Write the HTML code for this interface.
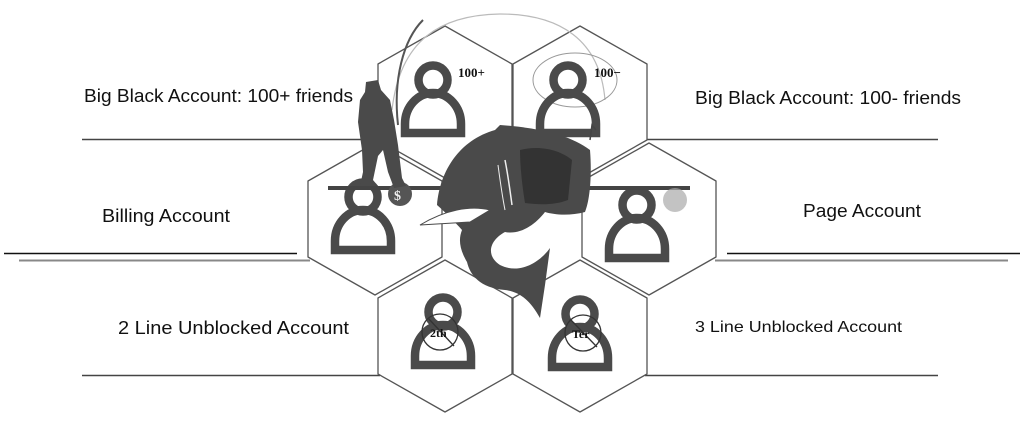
<!DOCTYPE html>
<html><head><meta charset="utf-8"><style>
html,body{margin:0;padding:0;background:#fff;}
svg{display:block;}
text{font-family:"Liberation Sans",sans-serif;fill:#111;}
</style></head><body>
<svg width="1024" height="422" viewBox="0 0 1024 422" xmlns="http://www.w3.org/2000/svg">
<defs>
<g id="hex"><polygon points="0,-76 67,-38 67,38 0,76 -67,38 -67,-38" fill="#fff" stroke="#555" stroke-width="1.3" stroke-linejoin="round"/></g>
<g id="icon">
<circle cx="0" cy="0" r="14.5" fill="none" stroke="#4a4a4a" stroke-width="8.5"/>
<path d="M-28,53 L-28,44 A28,31 0 0 1 28,44 L28,53 Z" fill="none" stroke="#4a4a4a" stroke-width="8.5" stroke-linejoin="miter"/>
</g>
</defs>
<g stroke="#444" stroke-width="1.5">
<line x1="82" y1="139.5" x2="380" y2="139.5"/>
<line x1="645" y1="139.5" x2="938" y2="139.5"/>
<line x1="4" y1="253.5" x2="297" y2="253.5" stroke="#111"/>
<line x1="19" y1="260.5" x2="310" y2="260.5" stroke="#888" stroke-width="2"/>
<line x1="727" y1="253.5" x2="1020" y2="253.5" stroke="#111"/>
<line x1="715" y1="260.5" x2="1008" y2="260.5" stroke="#888" stroke-width="2"/>
<line x1="82" y1="375.5" x2="380" y2="375.5"/>
<line x1="645" y1="375.5" x2="938" y2="375.5"/>
</g>
<use href="#hex" x="445" y="102"/>
<use href="#hex" x="580" y="102"/>
<use href="#hex" x="375" y="219"/>
<use href="#hex" x="649" y="219"/>
<use href="#hex" x="445" y="336"/>
<use href="#hex" x="580" y="336"/>
<path d="M392,110 C400,40 440,15 500,14 C560,14 600,40 605,100" fill="none" stroke="#bbb" stroke-width="1.2"/>
<ellipse cx="575" cy="80" rx="42" ry="27" fill="none" stroke="#999" stroke-width="1"/>
<use href="#icon" x="433" y="80"/>
<use href="#icon" x="568" y="80"/>
<use href="#icon" x="363" y="197"/>
<use href="#icon" x="637" y="205"/>
<use href="#icon" x="443" y="312"/>
<use href="#icon" x="580" y="314"/>
<text x="458" y="77" style="font-family:'Liberation Serif',serif" font-size="13" font-weight="bold">100+</text>
<text x="594" y="77" style="font-family:'Liberation Serif',serif" font-size="13" font-weight="bold">100−</text>
<circle cx="440" cy="332" r="18" fill="none" stroke="#333" stroke-width="1.3"/>
<line x1="428" y1="318" x2="454" y2="346" stroke="#333" stroke-width="1.3"/>
<text x="430" y="337" style="font-family:'Liberation Serif',serif" font-size="12" font-weight="bold">2th</text>
<circle cx="583" cy="333" r="18" fill="none" stroke="#333" stroke-width="1.3"/>
<line x1="570" y1="319" x2="597" y2="347" stroke="#333" stroke-width="1.3"/>
<text x="572" y="338" style="font-family:'Liberation Serif',serif" font-size="12" font-weight="bold">Ter</text>
<line x1="328" y1="188" x2="690" y2="188" stroke="#444" stroke-width="4"/>
<circle cx="400" cy="194" r="12" fill="#555"/>
<text x="394" y="200" font-size="14" style="fill:#eee;font-family:'Liberation Serif',serif" font-weight="bold">$</text>
<circle cx="675" cy="200" r="12" fill="#aaa" opacity="0.7"/>
<!-- fisherman -->
<path d="M366,82 L378,80 L381,90 L390,100 L394,120 L398,145 L402,178 L406,186 L394,188 L388,172 L383,150 L378,156 L373,180 L378,186 L360,186 L363,172 L362,150 L358,122 L360,100 L365,92 Z" fill="#4a4a4a"/>
<path d="M398,125 C393,80 403,40 423,20" fill="none" stroke="#555" stroke-width="2"/>
<!-- fish -->
<path d="M437,205 C440,170 460,140 495,130 L500,125 C540,128 570,135 590,150 C592,175 590,200 585,212 C570,216 555,215 545,212 C535,225 520,235 505,232 C490,240 485,255 500,265 C520,275 540,262 550,248 L545,285 L540,318 C530,300 520,292 505,290 C480,288 470,275 467,262 C460,250 458,240 462,230 C455,222 445,212 437,205 Z" fill="#4a4a4a"/>
<path d="M520,150 C540,145 560,150 572,160 L568,200 C555,205 540,205 525,203 C522,185 520,165 520,150 Z" fill="#333"/>
<path d="M505,160 C508,175 510,190 512,205" stroke="#eee" stroke-width="1.5" fill="none"/>
<path d="M498,165 C500,180 502,195 505,210" stroke="#eee" stroke-width="1" fill="none"/>
<path d="M420,225 C445,210 470,205 490,210 L470,222 Z" fill="#fff" stroke="#4a4a4a" stroke-width="1"/>
<path d="M590,140 L592,125 L596,130" fill="none" stroke="#444" stroke-width="1.5"/>
<text x="84" y="102" font-size="18" textLength="269" lengthAdjust="spacingAndGlyphs">Big Black Account: 100+ friends</text>
<text x="695" y="104" font-size="18" textLength="266" lengthAdjust="spacingAndGlyphs">Big Black Account: 100- friends</text>
<text x="102" y="222" font-size="18" textLength="128" lengthAdjust="spacingAndGlyphs">Billing Account</text>
<text x="803" y="217" font-size="18" textLength="118" lengthAdjust="spacingAndGlyphs">Page Account</text>
<text x="118" y="334" font-size="18" textLength="231" lengthAdjust="spacingAndGlyphs">2 Line Unblocked Account</text>
<text x="695" y="332" font-size="16" textLength="207" lengthAdjust="spacingAndGlyphs">3 Line Unblocked Account</text>
</svg>
</body></html>
